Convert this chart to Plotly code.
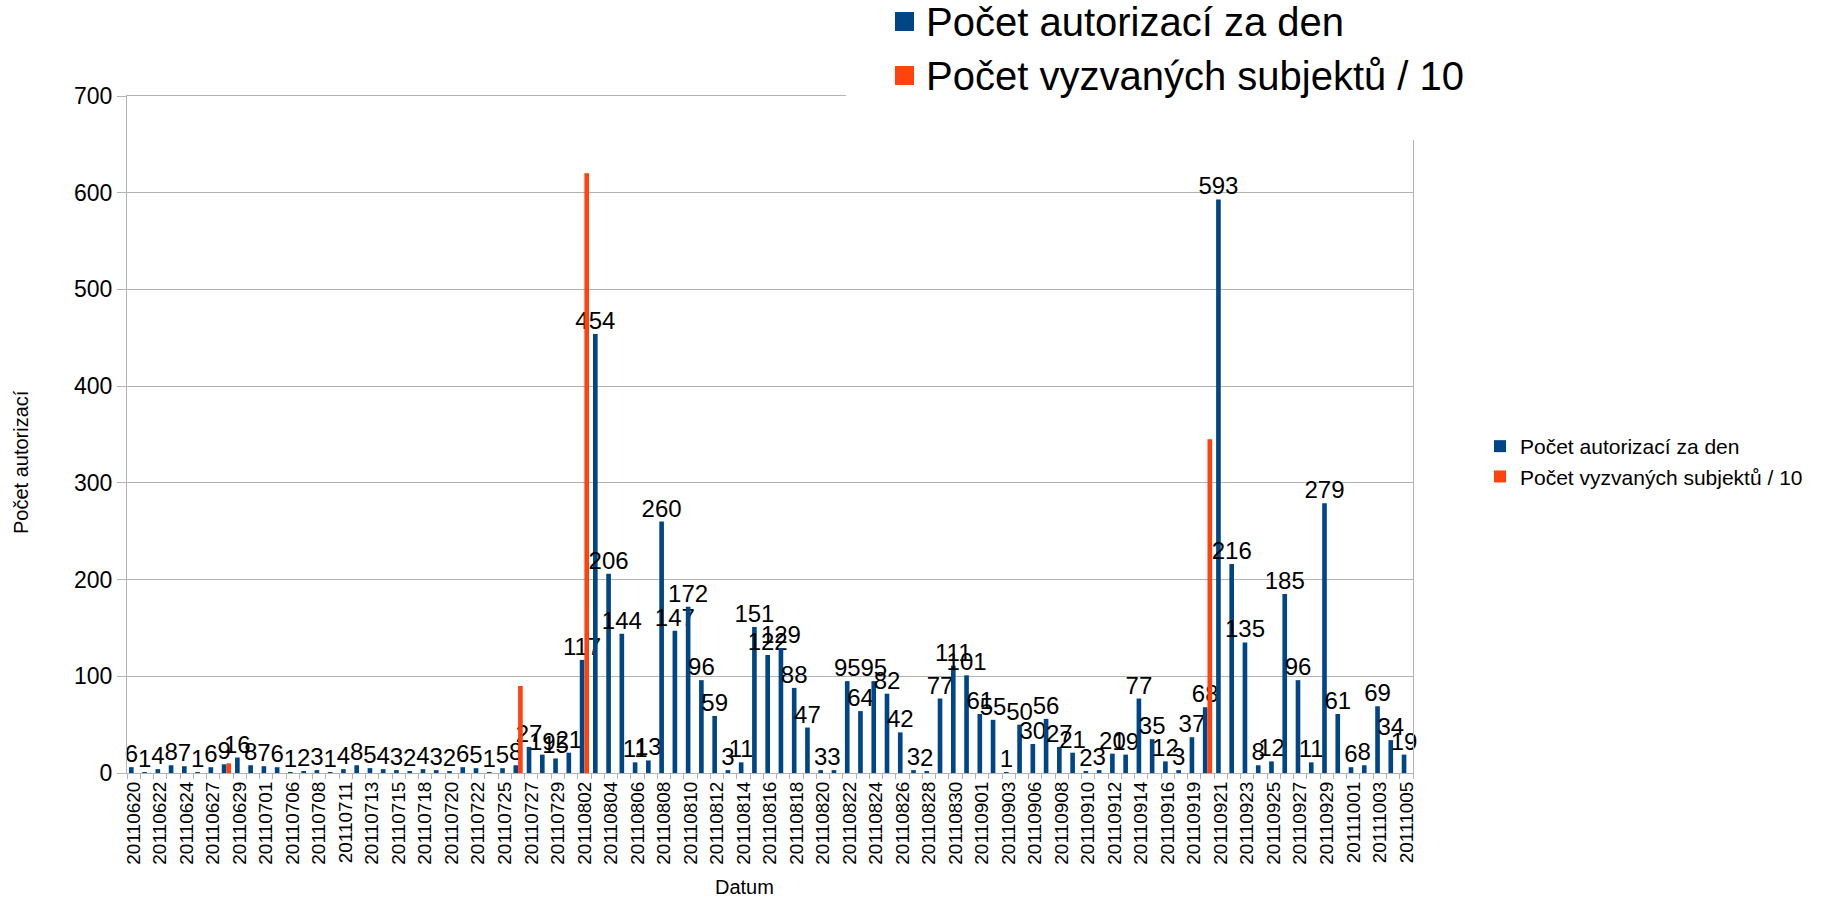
import plotly.graph_objects as go

# ---------------- data ----------------
dates = ["20110620", "20110621", "20110622", "20110623", "20110624", "20110626", "20110627",
         "20110628", "20110629", "20110630", "20110701", "20110704", "20110706", "20110707",
         "20110708", "20110710", "20110711", "20110712", "20110713", "20110714", "20110715",
         "20110717", "20110718", "20110719", "20110720", "20110721", "20110722", "20110724",
         "20110725", "20110726", "20110727", "20110728", "20110729", "20110801", "20110802",
         "20110803", "20110804", "20110805", "20110806", "20110807", "20110808", "20110809",
         "20110810", "20110811", "20110812", "20110813", "20110814", "20110815", "20110816",
         "20110817", "20110818", "20110819", "20110820", "20110821", "20110822", "20110823",
         "20110824", "20110825", "20110826", "20110827", "20110828", "20110829", "20110830",
         "20110831", "20110901", "20110902", "20110903", "20110905", "20110906", "20110907",
         "20110908", "20110909", "20110910", "20110911", "20110912", "20110913", "20110914",
         "20110915", "20110916", "20110918", "20110919", "20110920", "20110921", "20110922",
         "20110923", "20110924", "20110925", "20110926", "20110927", "20110928", "20110929",
         "20110930", "20111001", "20111002", "20111003", "20111004", "20111005"]

autorizace = [6, 1, 4, 8, 7, 1, 6, 9, 16, 8,
              7, 6, 1, 2, 3, 1, 4, 8, 5, 4,
              3, 2, 4, 3, 2, 6, 5, 1, 5, 8,
              27, 19, 15, 21, 117, 454, 206, 144, 11, 13,
              260, 147, 172, 96, 59, 3, 11, 151, 122, 129,
              88, 47, 3, 3, 95, 64, 95, 82, 42, 3,
              2, 77, 111, 101, 61, 55, 1, 50, 30, 56,
              27, 21, 2, 3, 20, 19, 77, 35, 12, 3,
              37, 68, 593, 216, 135, 8, 12, 185, 96, 11,
              279, 61, 6, 8, 69, 34, 19]

N = None
subjekty = [N, N, N, N, N, N, N, 10, N, N,
            N, N, N, N, N, N, N, N, N, N,
            N, N, N, N, N, N, N, N, N, 90,
            N, N, N, N, 620, N, N, N, N, N,
            N, N, N, N, N, N, N, N, N, N,
            N, N, N, N, N, N, N, N, N, N,
            N, N, N, N, N, N, N, N, N, N,
            N, N, N, N, N, N, N, N, N, N,
            N, 345, N, N, N, N, N, N, N, N,
            N, N, N, N, N, N, N]

name_a = "Počet autorizací za den"
name_s = "Počet vyzvaných subjektů / 10"
y_ticks = [0, 100, 200, 300, 400, 500, 600, 700]

BLUE = "#004586"
ORANGE = "#ff420e"
GRID = "#b3b3b3"
FONT = "Liberation Sans, Arial, sans-serif"

# ---------------- geometry (pixels) ----------------
W, H = 1823, 897
PL, PR, PT, PB = 127, 1413, 96, 773


def px(x):
    return (x - PL) / (PR - PL)


def py(y):
    return (PB - y) / (PB - PT)


ticktext = [d if i % 2 == 0 else "" for i, d in enumerate(dates)]

fig = go.Figure()
fig.add_trace(go.Bar(
    x=dates, y=autorizace, name=name_a, marker=dict(color=BLUE, line=dict(width=0)),
    text=autorizace, textposition="outside", constraintext="none", cliponaxis=False,
    textfont=dict(family=FONT, size=24, color="#000000"),
))
fig.add_trace(go.Bar(
    x=dates, y=subjekty, name=name_s, marker=dict(color=ORANGE, line=dict(width=0)),
))

fig.update_layout(
    width=W, height=H, autosize=False,
    margin=dict(l=PL, r=W - PR, t=PT, b=H - PB, pad=0),
    paper_bgcolor="white", plot_bgcolor="white",
    font=dict(family=FONT, color="#000000"),
    barmode="group", bargap=0.3, bargroupgap=0,
    showlegend=True,
    legend=dict(x=px(1480), y=py(426), xanchor="left", yanchor="top",
                font=dict(family=FONT, size=21, color="#000000"),
                bgcolor="rgba(0,0,0,0)", itemclick=False, tracegroupgap=0),
    xaxis=dict(
        type="category", tickmode="array", tickvals=dates, ticktext=ticktext,
        tickangle=-90, tickfont=dict(family=FONT, size=19, color="#000000"),
        ticks="outside", ticklen=5, tickcolor=GRID, tickson="boundaries",
        showgrid=False, showline=True, linecolor=GRID, linewidth=1, mirror=True,
        zeroline=False,
    ),
    yaxis=dict(
        range=[0, 700], tickmode="array", tickvals=y_ticks,
        tickfont=dict(family=FONT, size=23, color="#000000"),
        ticks="outside", ticklen=9, tickcolor=GRID,
        showgrid=True, gridcolor=GRID, gridwidth=1,
        showline=True, linecolor=GRID, linewidth=1, mirror=True, zeroline=False,
    ),
)

# axis titles
fig.add_annotation(text="Počet autorizací", xref="paper", yref="paper",
                   x=px(21), y=py(462), xanchor="center", yanchor="middle",
                   textangle=-90, showarrow=False,
                   font=dict(family=FONT, size=20, color="#000000"))
fig.add_annotation(text="Datum", xref="paper", yref="paper",
                   x=px(744), y=py(887), xanchor="center", yanchor="middle",
                   showarrow=False,
                   font=dict(family=FONT, size=20, color="#000000"))

# pasted large legend on top (white patch covering the frame)
fig.add_shape(type="rect", xref="paper", yref="paper", layer="above",
              x0=px(846), x1=px(1430), y0=py(140), y1=py(-5),
              fillcolor="white", line=dict(width=0))
fig.add_shape(type="rect", xref="paper", yref="paper", layer="above",
              x0=px(895), x1=px(914), y0=py(31), y1=py(12),
              fillcolor=BLUE, line=dict(width=0))
fig.add_shape(type="rect", xref="paper", yref="paper", layer="above",
              x0=px(895), x1=px(914), y0=py(85), y1=py(66),
              fillcolor=ORANGE, line=dict(width=0))
fig.add_annotation(text=name_a, xref="paper", yref="paper", x=px(924), y=py(22),
                   xanchor="left", yanchor="middle", showarrow=False,
                   font=dict(family=FONT, size=40, color="#000000"))
fig.add_annotation(text=name_s, xref="paper", yref="paper", x=px(924), y=py(76),
                   xanchor="left", yanchor="middle", showarrow=False,
                   font=dict(family=FONT, size=40, color="#000000"))

fig.write_html("out.html", config={"displayModeBar": False},
               post_script="document.body.style.margin='0';document.body.style.overflow='hidden';")
